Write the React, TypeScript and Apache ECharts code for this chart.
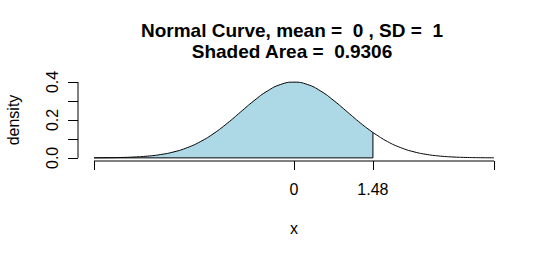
import React, { useEffect, useRef } from "react";
import * as echarts from "echarts";

const xs = [-3.75, -3.5, -3.25, -3, -2.75, -2.5, -2.25, -2, -1.75, -1.5, -1.25, -1, -0.75, -0.5, -0.25, 0, 0.25, 0.5, 0.75, 1, 1.25, 1.48, 1.5, 1.75, 2, 2.25, 2.5, 2.75, 3, 3.25, 3.5, 3.75];
const density = [0.0004, 0.0009, 0.002, 0.0044, 0.0091, 0.0175, 0.0317, 0.054, 0.0863, 0.1295, 0.1826, 0.242, 0.3011, 0.3521, 0.3867, 0.3989, 0.3867, 0.3521, 0.3011, 0.242, 0.1826, 0.1334, 0.1295, 0.0863, 0.054, 0.0317, 0.0175, 0.0091, 0.0044, 0.002, 0.0009, 0.0004];
const cutoff = 1.48;
const xTicks = [-3.75, 0, 1.48, 3.75];
const xLabels = [0, 1.48];
const yTicks = [0, 0.1, 0.2, 0.3, 0.4];
const yLabels = [0, 0.2, 0.4];
const titleText = "Normal Curve, mean =  0 , SD =  1\nShaded Area =  0.9306";

const FONT = "'Liberation Sans', Arial, sans-serif";

export default function App() {
  const ref = useRef<HTMLDivElement>(null);
  useEffect(() => {
    if (!ref.current) return;
    const chart = echarts.init(ref.current, undefined, { renderer: "svg" });
    const xMin = -4.05, xMax = 4.05, yMin = -0.0165, yMax = 0.4155;
    const curve = xs.map((x, i) => [x, density[i]]);
    const shaded = curve.filter((p) => p[0] <= cutoff);
    const cutY = density[xs.indexOf(cutoff)];
    chart.setOption({
      animation: false,
      backgroundColor: "#ffffff",
      textStyle: { fontFamily: FONT },
      title: {
        text: titleText,
        left: 292,
        top: 20,
        padding: 0,
        textAlign: "center",
        textStyle: { fontFamily: FONT, fontSize: 19, fontWeight: "bold", color: "#000", lineHeight: 21 },
      },
      grid: { left: 78, right: 40, top: 79, bottom: 98, containLabel: false, outerBoundsMode: "none" },
      xAxis: {
        type: "value",
        min: xMin,
        max: xMax,
        name: "x",
        nameLocation: "middle",
        nameGap: 59,
        nameTextStyle: { fontFamily: FONT, fontSize: 16, color: "#000" },
        axisLine: { show: false, onZero: false },
        splitLine: { show: false },
        axisTick: { show: true, customValues: xTicks, length: 9, lineStyle: { color: "#000", width: 1 } },
        axisLabel: {
          customValues: xLabels,
          margin: 20,
          fontFamily: FONT,
          fontSize: 16,
          color: "#000",
          formatter: (v: number) => String(v),
        },
      },
      yAxis: {
        type: "value",
        min: yMin,
        max: yMax,
        name: "density",
        nameLocation: "middle",
        nameGap: 57,
        nameRotate: 90,
        nameTextStyle: { fontFamily: FONT, fontSize: 16, color: "#000" },
        axisLine: { show: false, onZero: false },
        splitLine: { show: false },
        axisTick: { show: true, customValues: yTicks, length: 10, lineStyle: { color: "#000", width: 1 } },
        axisLabel: {
          customValues: yLabels,
          rotate: 90,
          margin: 18,
          fontFamily: FONT,
          fontSize: 16,
          color: "#000",
          formatter: (v: number) => v.toFixed(1),
        },
      },
      series: [
        {
          type: "line",
          data: shaded,
          smooth: true,
          symbol: "none",
          lineStyle: { width: 0, color: "#ADD8E6" },
          areaStyle: { color: "#ADD8E6", opacity: 1 },
          z: 1,
        },
        {
          type: "line",
          data: curve,
          smooth: true,
          symbol: "none",
          lineStyle: { width: 1, color: "#000" },
          z: 3,
        },
        {
          type: "line",
          data: [[xs[0], 0], [cutoff, 0], [cutoff, cutY]],
          symbol: "none",
          lineStyle: { width: 1, color: "#000" },
          z: 3,
        },
        {
          type: "line",
          data: [[xs[0], yMin], [xs[xs.length - 1], yMin]],
          symbol: "none",
          clip: false,
          lineStyle: { width: 1, color: "#000" },
          z: 3,
        },
        {
          type: "line",
          data: [[xMin, yTicks[0]], [xMin, yTicks[yTicks.length - 1]]],
          symbol: "none",
          clip: false,
          lineStyle: { width: 1, color: "#000" },
          z: 3,
        },
      ],
    });
    return () => chart.dispose();
  }, []);
  return (
    <div
      ref={ref}
      style={{ position: "fixed", left: 0, top: 0, width: 550, height: 259, background: "#fff" }}
    />
  );
}
